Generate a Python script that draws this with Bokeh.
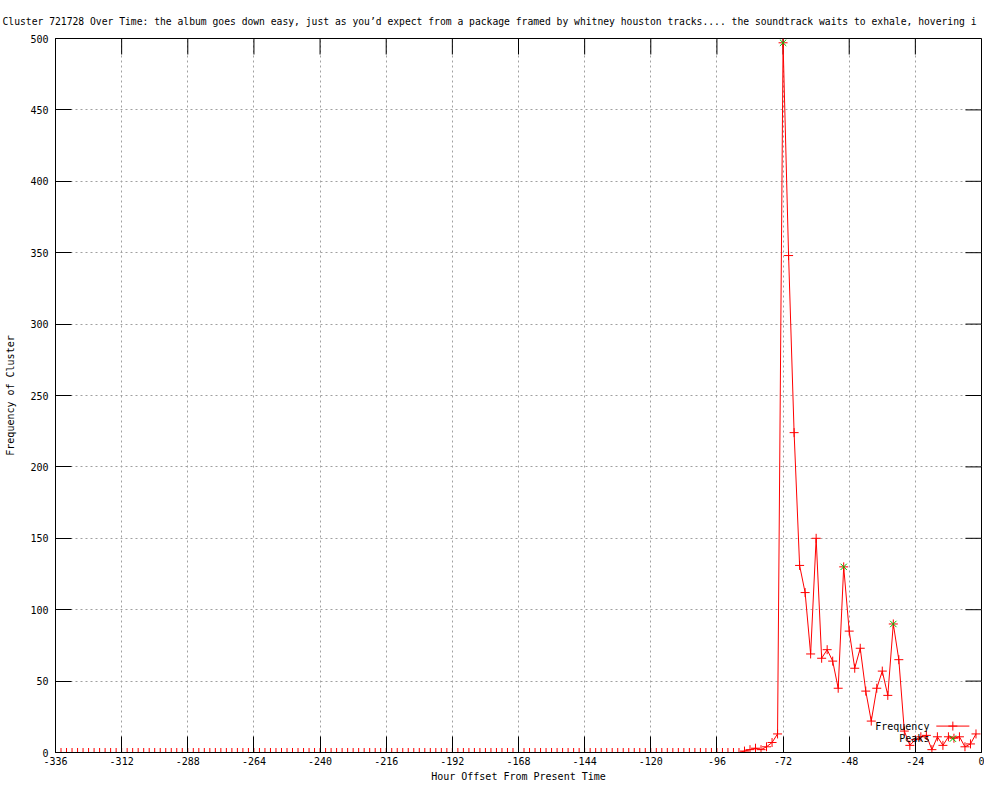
from bokeh.plotting import figure
from bokeh.models import Range1d, FixedTicker, Label
from bokeh.embed import file_html
from bokeh.resources import INLINE

# ---------------- data ----------------
title_text = ("Cluster 721728 Over Time: the album goes down easy, just as you\u2019d expect "
              "from a package framed by whitney houston tracks.... the soundtrack waits to exhale, hovering i")

hours = list(range(-336, 0, 2))  # -336 ... -2, every 2 hours

frequency = [
    0, 0, 0, 0, 0, 0, 0, 0, 0, 0, 0, 0, 0, 0, 0, 0, 0, 0, 0, 0, 0, 0, 0, 0, 0,
    0, 0, 0, 0, 0, 0, 0, 0, 0, 0, 0, 0, 0, 0, 0, 0, 0, 0, 0, 0, 0, 0, 0, 0, 0,
    0, 0, 0, 0, 0, 0, 0, 0, 0, 0, 0, 0, 0, 0, 0, 0, 0, 0, 0, 0, 0, 0, 0, 0, 0,
    0, 0, 0, 0, 0, 0, 0, 0, 0, 0, 0, 0, 0, 0, 0, 0, 0, 0, 0, 0, 0, 0, 0, 0, 0,
    0, 0, 0, 0, 0, 0, 0, 0, 0, 0, 0, 0, 0, 0, 0, 0, 0, 0, 0, 0, 0, 0, 0, 0, 0,
    1, 2, 3, 2, 4, 7, 13,
    497, 348, 224, 131, 112, 69, 150, 66, 72, 64, 45, 130, 85, 59, 73, 43, 22,
    45, 57, 40, 90, 65,
    15, 5, 9, 11, 12, 2, 11, 5, 11, 10, 11, 4, 6, 13,
]

peak_hours = [-72, -50, -32]
peak_values = [497, 130, 90]

x_ticks = [-336, -312, -288, -264, -240, -216, -192, -168, -144, -120, -96, -72, -48, -24, 0]
x_tick_labels = ["-336", "-312", "-288", "-264", "-240", "-216", "-192", "-168",
                 "-144", "-120", "-96", "-72", "-48", "-24", "0"]
y_ticks = [0, 50, 100, 150, 200, 250, 300, 350, 400, 450, 500]
y_tick_labels = ["0", "50", "100", "150", "200", "250", "300", "350", "400", "450", "500"]

series_names = ["Frequency", "Peaks"]

X_MIN, X_MAX = -336, 0
Y_MIN, Y_MAX = 0, 500

# ---------------- style ----------------
FONT = "DejaVu Sans Mono"
RED = "#ff0000"
GREEN = "#00c000"
GRID = "#a0a0a0"
TICK_LEN = 16

# legend placement (data units)
LEG_TEXT_X = -18.9
LEG_SAMPLE_X0, LEG_SAMPLE_X1, LEG_SAMPLE_XC = -16.4, -4.4, -10.4
LEG_Y1, LEG_Y2 = 18.5, 9.7

p = figure(width=984, height=784,
           x_range=Range1d(X_MIN, X_MAX), y_range=Range1d(Y_MIN, Y_MAX),
           output_backend="svg", toolbar_location=None,
           min_border_left=55, min_border_right=3,
           min_border_top=38, min_border_bottom=28)

p.background_fill_color = "white"
p.border_fill_color = "white"
p.outline_line_color = "black"
p.outline_line_width = 1
p.outline_line_alpha = 1

p.title.text = title_text
p.title.text_font = FONT
p.title.text_font_size = "9.7px"
p.title.text_font_style = "normal"
p.title.text_color = "black"
p.title.align = "left"
p.title.offset = -53
p.title.standoff = 23


def style_axis(ax):
    ax.major_tick_in = TICK_LEN
    ax.major_tick_out = 0
    ax.minor_tick_line_color = None
    ax.axis_line_color = "black"
    ax.major_tick_line_color = "black"
    ax.major_label_text_font = FONT
    ax.major_label_text_font_size = "10px"
    ax.major_label_text_color = "black"
    ax.axis_label_text_font = FONT
    ax.axis_label_text_font_size = "10px"
    ax.axis_label_text_font_style = "normal"
    ax.axis_label_text_color = "black"


xa = p.xaxis[0]
xa.ticker = FixedTicker(ticks=x_ticks)
xa.major_label_overrides = dict(zip(x_ticks, x_tick_labels))
xa.axis_label = "Hour Offset From Present Time"
style_axis(xa)
xa.major_label_standoff = 4
xa.axis_label_standoff = 3

ya = p.yaxis[0]
ya.ticker = FixedTicker(ticks=y_ticks)
ya.major_label_overrides = dict(zip(y_ticks, y_tick_labels))
ya.axis_label = "Frequency of Cluster"
style_axis(ya)
ya.major_label_standoff = 7
ya.axis_label_standoff = 11

p.xgrid.ticker = FixedTicker(ticks=x_ticks)
p.ygrid.ticker = FixedTicker(ticks=y_ticks)
for g in (p.xgrid[0], p.ygrid[0]):
    g.grid_line_color = GRID
    g.grid_line_dash = "2 3"
    g.grid_line_width = 1

# mirrored inward ticks on the top and right borders (gnuplot style)
p.ray(x=x_ticks, y=Y_MAX, length=TICK_LEN, length_units="screen",
      angle=-90, angle_units="deg", line_color="black", line_width=1)
p.ray(x=X_MAX, y=y_ticks, length=TICK_LEN, length_units="screen",
      angle=180, angle_units="deg", line_color="black", line_width=1)

# data
p.line(hours, frequency, line_color=RED, line_width=1)
p.scatter(hours, frequency, marker="cross", size=9, line_color=RED, line_width=1)
p.scatter(peak_hours, peak_values, marker="x", size=9, line_color=GREEN, line_width=1)

# legend (gnuplot style: text then sample)
p.add_layout(Label(x=LEG_TEXT_X, y=LEG_Y1, text=series_names[0], text_align="right",
                   text_baseline="middle", text_font=FONT, text_font_size="10px",
                   text_color="black"))
p.add_layout(Label(x=LEG_TEXT_X, y=LEG_Y2, text=series_names[1], text_align="right",
                   text_baseline="middle", text_font=FONT, text_font_size="10px",
                   text_color="black"))
p.line([LEG_SAMPLE_X0, LEG_SAMPLE_X1], [LEG_Y1, LEG_Y1], line_color=RED, line_width=1)
p.scatter([LEG_SAMPLE_XC], [LEG_Y1], marker="cross", size=9, line_color=RED)
p.scatter([LEG_SAMPLE_XC], [LEG_Y2], marker="x", size=9, line_color=GREEN)

open("out.html", "w").write(file_html(p, INLINE))
